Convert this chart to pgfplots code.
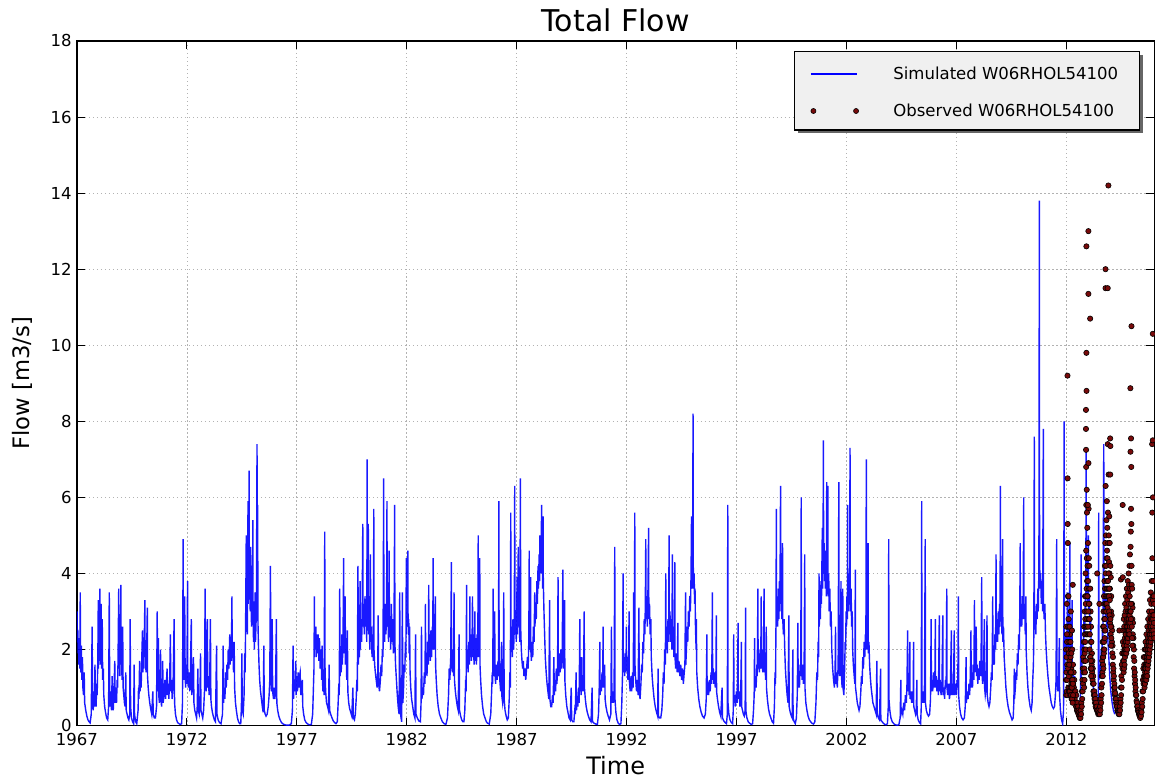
\documentclass[border=0pt]{standalone}
\usepackage{fontspec}
\setmainfont{DejaVu Sans}
\usepackage{pgfplots}
\pgfplotsset{compat=1.18}
\definecolor{simblue}{RGB}{0,0,255}
\definecolor{obsred}{RGB}{120,10,10}
\definecolor{legbg}{RGB}{240,240,240}
\begin{document}
\begin{tikzpicture}
\begin{axis}[
  at={(0,0)}, anchor=south west,
  width=808.5pt, height=513.75pt, scale only axis,
  xmin=1967, xmax=2016, ymin=0, ymax=18,
  xtick={1967,1972,...,2012}, ytick={0,2,...,18},
  /pgf/number format/1000 sep={}, /pgf/number format/assume math mode=true,
  tick label style={font=\fontsize{12.4}{14}\selectfont},
  xticklabel style={yshift=-2.5pt},
  yticklabel style={xshift=-0.5pt},
  grid=major, major grid style={gray!60, dash pattern=on 1pt off 2pt, line width=0.5pt},
  axis line style={line width=1.1pt},
  tick align=inside, major tick length=6pt, tick style={black, line width=0.8pt},
  xtick pos=both, ytick pos=both,
  title={Total Flow}, title style={font=\fontsize{22.5}{26}\selectfont, at={(axis description cs:0.5,1.018)}, anchor=center},
  xlabel={Time}, xlabel style={font=\fontsize{18}{20}\selectfont, at={(axis description cs:0.5,-0.058)}, anchor=center},
  ylabel={Flow [m3/s]}, ylabel style={font=\fontsize{17}{20}\selectfont, at={(axis description cs:-0.051,0.5)}, anchor=center},
  legend style={at={(axis description cs:0.666,0.984)}, anchor=north west, fill=none, draw=none,
    font=\fontsize{12.4}{14}\selectfont, inner xsep=10pt, inner ysep=9pt, row sep=12.75pt},
  legend cell align=left,
]
% legend frame with shadow (drawn before the legend entries)
\fill[black!60] ([xshift=2.5pt,yshift=-2.5pt]axis description cs:0.666,0.870) rectangle ([xshift=2.5pt,yshift=-2.5pt]axis description cs:0.986,0.984);
\draw[fill=legbg, line width=0.8pt] (axis description cs:0.666,0.870) rectangle (axis description cs:0.986,0.984);
\addplot[simblue, draw opacity=0.9, line width=1.05pt,
  legend image code/.code={\draw[simblue, draw opacity=1, line width=1.1pt] (0pt,0pt) -- (35pt,0pt); \path[draw=none, fill=none] (-2pt,-4pt) rectangle (60pt,4pt);}]
coordinates {
(1967.00,2.6)(1967.01,3.0)(1967.02,2.2)(1967.04,2.5)(1967.05,1.9)(1967.07,2.3)(1967.09,1.6)(1967.11,2.2)(1967.13,1.5)(1967.15,3.5)(1967.16,2.0)(1967.18,1.4)(1967.20,2.1)(1967.22,1.2)(1967.25,1.8)(1967.27,1.0)(1967.30,0.8)(1967.33,1.4)(1967.35,0.6)(1967.40,0.4)(1967.45,0.25)(1967.50,0.15)(1967.55,0.1)(1967.60,0.07)(1967.65,0.3)(1967.69,2.6)(1967.71,0.6)(1967.74,0.4)(1967.77,0.9)(1967.79,0.5)(1967.82,1.6)(1967.84,0.7)(1967.87,0.5)(1967.90,1.1)(1967.92,0.8)(1967.95,1.8)(1967.97,3.3)(1967.98,1.5)(1968.00,2.4)(1968.02,1.7)(1968.04,3.6)(1968.05,2.0)(1968.07,2.6)(1968.08,1.6)(1968.10,3.2)(1968.12,1.5)(1968.13,2.2)(1968.15,2.8)(1968.17,1.2)(1968.20,1.5)(1968.22,0.8)(1968.26,0.5)(1968.30,0.35)(1968.35,0.2)(1968.40,0.15)(1968.44,0.5)(1968.47,3.5)(1968.49,0.8)(1968.52,0.5)(1968.55,0.9)(1968.57,0.4)(1968.60,1.3)(1968.62,0.6)(1968.65,0.4)(1968.68,0.8)(1968.72,1.7)(1968.74,0.6)(1968.77,1.0)(1968.80,0.6)(1968.83,1.2)(1968.85,1.0)(1968.87,1.8)(1968.90,3.6)(1968.91,1.5)(1968.93,2.0)(1968.95,1.3)(1968.97,2.2)(1969.00,3.7)(1969.01,1.6)(1969.03,1.9)(1969.05,1.2)(1969.08,2.6)(1969.10,1.0)(1969.13,0.8)(1969.16,0.6)(1969.19,0.5)(1969.22,1.4)(1969.24,0.4)(1969.28,0.3)(1969.32,0.2)(1969.36,0.15)(1969.40,0.3)(1969.42,2.8)(1969.44,0.5)(1969.48,0.2)(1969.53,0.1)(1969.58,0.05)(1969.60,1.6)(1969.62,0.3)(1969.67,0.1)(1969.72,0.05)(1969.78,0.4)(1969.80,1.0)(1969.82,0.7)(1969.85,1.7)(1969.87,0.9)(1969.90,1.4)(1969.92,1.0)(1969.95,1.8)(1969.98,2.5)(1970.00,1.4)(1970.02,2.0)(1970.04,1.5)(1970.06,2.2)(1970.09,3.3)(1970.10,1.8)(1970.12,2.0)(1970.14,1.4)(1970.17,1.9)(1970.20,3.1)(1970.21,1.3)(1970.24,1.0)(1970.27,0.8)(1970.31,0.6)(1970.35,0.45)(1970.40,0.3)(1970.45,0.9)(1970.47,0.3)(1970.52,0.2)(1970.57,0.2)(1970.62,0.5)(1970.65,3.0)(1970.67,0.9)(1970.70,2.3)(1970.72,0.8)(1970.75,0.6)(1970.78,1.0)(1970.80,2.0)(1970.82,0.7)(1970.85,0.5)(1970.88,0.9)(1970.90,1.7)(1970.92,0.6)(1970.96,0.8)(1971.00,1.2)(1971.03,0.7)(1971.06,1.0)(1971.10,1.5)(1971.12,0.8)(1971.15,1.1)(1971.18,0.7)(1971.22,1.3)(1971.25,2.4)(1971.27,0.9)(1971.30,1.2)(1971.33,0.7)(1971.37,1.0)(1971.42,2.8)(1971.44,0.6)(1971.48,0.3)(1971.53,0.15)(1971.58,0.08)(1971.64,0.05)(1971.70,0.03)(1971.76,0.05)(1971.80,0.6)
(1971.83,4.9)(1971.84,1.8)(1971.86,1.2)(1971.88,2.2)(1971.90,3.4)(1971.92,1.4)(1971.94,1.0)(1971.97,1.6)(1972.00,1.1)(1972.03,3.8)(1972.04,1.5)(1972.07,1.0)(1972.10,1.4)(1972.13,0.9)(1972.16,1.3)(1972.20,2.8)(1972.22,0.8)(1972.26,1.0)(1972.30,1.8)(1972.32,0.6)(1972.36,0.4)(1972.40,0.3)(1972.44,0.2)(1972.47,0.5)(1972.50,1.5)(1972.52,0.4)(1972.56,0.3)(1972.59,0.6)(1972.62,1.9)(1972.64,0.4)(1972.68,0.3)(1972.72,0.2)(1972.76,0.4)(1972.80,0.9)(1972.83,3.6)(1972.85,1.2)(1972.88,0.9)(1972.90,1.5)(1972.93,2.8)(1972.95,1.0)(1972.98,1.3)(1973.01,0.8)(1973.04,1.2)(1973.07,2.8)(1973.09,0.7)(1973.12,0.5)(1973.16,0.35)(1973.20,0.25)(1973.25,0.15)(1973.30,0.1)(1973.35,2.1)(1973.37,0.3)(1973.42,0.15)(1973.48,0.08)(1973.55,0.05)(1973.62,0.3)(1973.65,2.1)(1973.67,0.6)(1973.70,1.0)(1973.73,0.7)(1973.76,1.4)(1973.79,1.0)(1973.82,1.6)(1973.85,1.2)(1973.88,2.0)(1973.91,1.5)(1973.95,2.4)(1973.97,1.6)(1974.00,2.2)(1974.02,1.7)(1974.05,3.4)(1974.06,1.8)(1974.09,2.2)(1974.12,1.4)(1974.15,2.2)(1974.17,1.0)(1974.21,0.6)(1974.25,0.4)(1974.30,0.2)(1974.35,0.1)(1974.40,0.05)(1974.45,0.05)(1974.48,0.5)(1974.50,1.9)(1974.52,0.4)(1974.56,0.3)(1974.60,0.8)(1974.63,1.9)(1974.65,1.4)(1974.67,2.6)(1974.70,5.0)(1974.71,2.8)(1974.73,3.6)(1974.75,2.4)(1974.78,5.9)(1974.79,3.2)(1974.81,4.0)(1974.83,6.7)(1974.84,3.5)(1974.86,4.4)(1974.88,3.0)(1974.90,4.7)(1974.92,3.2)(1974.94,2.6)(1974.96,3.8)(1974.98,2.8)(1975.00,5.4)(1975.01,3.0)(1975.03,2.2)(1975.05,3.0)(1975.07,2.0)(1975.10,3.5)(1975.12,2.2)(1975.14,2.6)(1975.16,3.0)(1975.19,7.4)(1975.20,3.6)(1975.22,5.8)(1975.23,2.8)(1975.25,2.2)(1975.28,1.6)(1975.31,1.2)(1975.35,0.9)(1975.39,0.7)(1975.43,0.5)(1975.47,0.35)(1975.50,2.1)(1975.52,0.4)(1975.56,0.3)(1975.60,0.25)(1975.65,0.3)(1975.70,0.5)(1975.74,0.8)(1975.77,1.2)(1975.80,4.2)(1975.82,1.3)(1975.85,0.9)(1975.88,2.8)(1975.90,0.9)(1975.94,0.7)(1975.97,1.0)(1976.00,0.7)(1976.03,0.9)(1976.07,2.8)(1976.09,0.6)(1976.13,0.4)(1976.18,0.25)(1976.24,0.15)(1976.30,0.08)(1976.38,0.04)(1976.46,0.02)(1976.55,0.01)(1976.65,0.01)(1976.75,0.05)(1976.80,0.4)
(1976.83,2.1)(1976.85,0.7)(1976.88,1.2)(1976.91,0.9)(1976.95,1.7)(1976.97,0.8)(1977.00,1.3)(1977.03,0.9)(1977.06,1.4)(1977.09,1.0)(1977.12,1.3)(1977.15,1.4)(1977.18,0.8)(1977.21,1.0)(1977.25,1.2)(1977.27,0.5)(1977.31,0.3)(1977.36,0.15)(1977.42,0.08)(1977.50,0.04)(1977.58,0.02)(1977.66,0.03)(1977.72,0.3)(1977.75,0.9)(1977.78,1.5)(1977.80,3.4)(1977.81,2.0)(1977.84,2.4)(1977.87,2.6)(1977.88,1.8)(1977.91,2.4)(1977.94,1.9)(1977.97,2.4)(1978.00,1.7)(1978.03,2.3)(1978.06,1.5)(1978.10,2.0)(1978.13,1.2)(1978.15,2.1)(1978.18,0.9)(1978.21,1.2)(1978.24,0.8)(1978.27,5.1)(1978.28,1.6)(1978.31,0.9)(1978.35,0.6)(1978.40,0.5)(1978.44,0.4)(1978.47,1.6)(1978.49,0.4)(1978.54,0.3)(1978.60,0.2)(1978.66,0.12)(1978.72,0.08)(1978.78,0.05)(1978.84,0.1)(1978.88,0.6)(1978.91,1.1)(1978.93,0.8)(1978.95,3.6)(1978.97,1.3)(1979.00,2.0)(1979.02,1.4)(1979.05,2.4)(1979.07,1.6)(1979.10,2.2)(1979.13,4.4)(1979.14,1.9)(1979.17,2.6)(1979.20,3.4)(1979.21,1.6)(1979.24,2.3)(1979.27,1.2)(1979.30,2.5)(1979.32,0.9)(1979.36,0.6)(1979.40,0.45)(1979.45,0.35)(1979.50,0.25)(1979.55,1.0)(1979.57,0.2)(1979.62,0.15)(1979.66,0.3)(1979.70,0.7)(1979.73,1.2)(1979.75,0.9)(1979.78,4.2)(1979.80,1.6)(1979.83,2.3)(1979.85,1.8)(1979.88,3.8)(1979.89,2.0)(1979.92,2.8)(1979.95,2.2)(1979.97,3.0)(1980.00,5.3)(1980.01,2.6)(1980.04,3.2)(1980.07,2.4)(1980.10,3.4)(1980.13,2.6)(1980.16,3.0)(1980.18,2.2)(1980.20,7.0)(1980.21,3.0)(1980.23,2.5)(1980.25,5.3)(1980.26,2.4)(1980.29,2.8)(1980.32,2.0)(1980.35,4.5)(1980.36,2.2)(1980.39,2.6)(1980.42,1.8)(1980.45,2.4)(1980.48,1.7)(1980.50,5.7)(1980.51,2.0)(1980.54,1.6)(1980.57,1.4)(1980.61,1.2)(1980.65,1.0)(1980.68,1.4)(1980.70,2.9)(1980.72,1.1)(1980.76,0.9)(1980.80,1.2)(1980.83,1.6)(1980.86,1.3)(1980.89,2.0)(1980.92,1.8)(1980.95,6.5)(1980.96,2.8)(1980.99,2.2)(1981.02,3.2)(1981.05,2.4)(1981.08,2.8)(1981.10,5.9)(1981.11,2.6)(1981.14,3.0)(1981.17,2.2)(1981.20,4.6)(1981.21,2.4)(1981.24,2.8)(1981.27,2.0)(1981.30,3.2)(1981.33,2.2)(1981.36,2.8)(1981.39,1.9)(1981.42,2.6)(1981.45,5.8)(1981.46,2.2)(1981.49,1.6)(1981.53,1.2)(1981.57,0.8)(1981.61,0.5)(1981.65,0.3)(1981.68,3.5)(1981.70,0.4)(1981.74,0.2)(1981.77,0.1)(1981.80,3.5)(1981.82,0.6)(1981.85,0.9)(1981.88,1.6)(1981.91,1.4)(1981.94,2.2)(1981.96,1.8)(1981.98,4.4)(1981.99,2.4)(1982.02,2.9)(1982.05,4.6)(1982.06,2.6)(1982.09,2.8)(1982.11,1.9)(1982.13,2.6)(1982.15,1.4)(1982.18,1.0)(1982.22,0.7)(1982.27,0.5)(1982.32,0.3)(1982.37,0.2)(1982.40,2.4)(1982.42,0.3)(1982.48,0.2)(1982.55,0.12)(1982.62,0.1)(1982.65,0.6)
(1982.67,2.6)(1982.69,0.7)(1982.73,1.0)(1982.76,0.8)(1982.80,1.4)(1982.83,1.1)(1982.85,3.2)(1982.86,1.4)(1982.89,1.8)(1982.92,1.3)(1982.95,2.2)(1982.98,1.6)(1983.00,3.7)(1983.01,1.8)(1983.04,2.4)(1983.07,1.7)(1983.10,2.5)(1983.13,1.8)(1983.16,2.6)(1983.18,2.0)(1983.20,4.4)(1983.21,2.2)(1983.24,2.0)(1983.27,2.5)(1983.30,3.4)(1983.31,1.6)(1983.34,1.2)(1983.38,0.8)(1983.43,0.5)(1983.49,0.3)(1983.55,0.2)(1983.62,0.1)(1983.70,0.05)(1983.78,0.03)(1983.85,0.2)(1983.90,0.8)(1983.93,1.5)(1983.96,1.2)(1984.00,1.8)(1984.03,4.3)(1984.04,1.7)(1984.07,1.4)(1984.10,2.0)(1984.13,1.3)(1984.15,3.5)(1984.17,1.2)(1984.21,0.9)(1984.25,0.7)(1984.30,0.5)(1984.34,0.4)(1984.38,2.4)(1984.40,0.4)(1984.45,0.25)(1984.50,0.15)(1984.55,0.1)(1984.60,0.1)(1984.64,0.4)(1984.68,1.2)(1984.70,0.9)(1984.72,3.7)(1984.73,1.5)(1984.76,2.0)(1984.79,1.4)(1984.82,2.2)(1984.85,1.6)(1984.87,3.4)(1984.88,1.8)(1984.91,2.4)(1984.94,1.7)(1984.97,2.2)(1984.99,3.4)(1985.00,1.8)(1985.03,2.4)(1985.06,1.6)(1985.08,2.2)(1985.10,3.0)(1985.11,1.7)(1985.14,2.3)(1985.17,1.6)(1985.20,2.4)(1985.23,1.8)(1985.25,5.0)(1985.26,2.2)(1985.29,1.8)(1985.32,4.4)(1985.33,1.6)(1985.36,1.2)(1985.40,0.8)(1985.45,0.5)(1985.50,0.3)(1985.56,0.2)(1985.62,0.1)(1985.68,0.06)(1985.75,0.04)(1985.82,0.3)(1985.86,0.9)(1985.89,1.4)(1985.91,1.1)(1985.93,3.6)(1985.94,1.6)(1985.97,1.3)(1986.00,3.0)(1986.01,1.4)(1986.04,1.1)(1986.08,1.6)(1986.11,1.2)(1986.15,1.7)(1986.17,1.3)(1986.19,5.9)(1986.20,1.8)(1986.23,1.2)(1986.27,0.9)(1986.31,2.2)(1986.32,0.8)(1986.36,0.6)(1986.39,0.8)(1986.41,3.5)(1986.43,0.7)(1986.47,0.4)(1986.52,0.25)(1986.57,0.15)(1986.62,0.2)(1986.66,0.7)(1986.69,1.4)(1986.71,1.0)(1986.73,5.6)(1986.74,2.0)(1986.77,2.6)(1986.80,1.8)(1986.83,2.8)(1986.86,2.0)(1986.89,2.6)(1986.91,6.3)(1986.92,2.4)(1986.95,3.0)(1986.98,2.2)(1987.02,3.9)(1987.03,2.4)(1987.05,2.8)(1987.07,4.7)(1987.08,2.6)(1987.11,3.0)(1987.14,2.2)(1987.17,6.5)(1987.18,2.6)(1987.21,2.0)(1987.24,1.7)(1987.27,1.5)(1987.30,1.7)(1987.33,1.3)(1987.37,1.5)(1987.41,1.2)(1987.45,1.5)(1987.49,1.8)(1987.52,1.5)(1987.55,2.2)(1987.57,4.6)(1987.58,2.0)(1987.61,2.5)(1987.63,3.9)(1987.64,2.0)(1987.67,1.7)(1987.70,2.2)(1987.73,1.8)(1987.76,2.6)(1987.79,2.2)(1987.82,3.5)(1987.83,2.6)(1987.86,3.2)(1987.89,2.8)(1987.92,3.8)(1987.94,3.2)(1987.97,4.2)(1987.99,3.6)(1988.02,4.5)(1988.04,3.8)(1988.05,5.0)(1988.07,4.0)(1988.09,4.6)(1988.11,4.0)(1988.13,5.8)(1988.14,4.2)(1988.16,4.6)(1988.18,3.6)(1988.20,5.5)(1988.21,3.8)(1988.24,3.0)(1988.27,2.4)(1988.30,1.8)(1988.34,1.4)(1988.38,1.1)(1988.42,0.9)(1988.46,0.7)(1988.50,3.3)(1988.51,0.7)(1988.55,0.5)(1988.59,0.5)(1988.63,0.8)(1988.66,0.6)
(1988.69,1.8)(1988.71,0.8)(1988.74,1.2)(1988.77,0.9)(1988.80,1.5)(1988.83,1.1)(1988.86,1.6)(1988.88,3.9)(1988.89,1.6)(1988.92,1.3)(1988.95,1.9)(1988.98,1.4)(1989.01,2.0)(1989.04,1.5)(1989.07,2.0)(1989.10,4.1)(1989.11,1.8)(1989.14,1.5)(1989.18,3.3)(1989.19,1.2)(1989.23,0.8)(1989.28,0.5)(1989.33,0.35)(1989.38,0.2)(1989.43,0.15)(1989.48,1.0)(1989.50,0.15)(1989.55,0.1)(1989.60,0.1)(1989.64,0.4)(1989.67,0.3)(1989.70,1.4)(1989.72,0.4)(1989.75,0.7)(1989.78,0.5)(1989.81,1.0)(1989.84,0.6)(1989.87,2.8)(1989.88,0.9)(1989.91,1.2)(1989.93,0.8)(1989.95,1.8)(1989.97,0.9)(1990.00,1.3)(1990.03,0.9)(1990.07,3.0)(1990.08,1.0)(1990.12,0.7)(1990.16,0.5)(1990.21,0.35)(1990.26,0.25)(1990.32,0.15)(1990.38,0.1)(1990.43,1.0)(1990.45,0.1)(1990.52,0.06)(1990.60,0.04)(1990.67,0.03)(1990.72,0.3)(1990.75,0.9)(1990.78,2.2)(1990.79,0.8)(1990.82,1.2)(1990.85,0.9)(1990.88,1.4)(1990.91,1.0)(1990.93,2.6)(1990.94,1.0)(1990.97,1.2)(1991.00,1.6)(1991.02,0.7)(1991.06,0.5)(1991.11,0.35)(1991.16,0.25)(1991.22,0.15)(1991.28,0.3)(1991.31,2.6)(1991.33,0.6)(1991.37,0.9)(1991.40,0.6)(1991.43,1.0)(1991.46,4.7)(1991.47,0.7)(1991.51,0.35)(1991.56,0.15)(1991.62,0.06)(1991.68,0.03)(1991.74,0.05)(1991.78,0.6)(1991.81,1.3)(1991.84,4.0)(1991.85,1.4)(1991.88,1.8)(1991.91,1.3)(1991.94,1.9)(1991.97,1.4)(1991.99,2.6)(1992.00,1.5)(1992.03,1.8)(1992.06,1.2)(1992.09,1.6)(1992.11,3.0)(1992.12,1.2)(1992.16,0.9)(1992.20,1.3)(1992.23,0.9)(1992.27,1.4)(1992.30,1.0)(1992.32,3.5)(1992.33,1.3)(1992.35,1.6)(1992.37,5.6)(1992.38,1.6)(1992.41,1.2)(1992.45,0.9)(1992.49,1.2)(1992.52,0.8)(1992.56,3.1)(1992.57,0.9)(1992.61,0.7)(1992.65,1.1)(1992.68,1.6)(1992.71,1.4)(1992.74,2.2)(1992.77,1.9)(1992.80,2.8)(1992.83,2.4)(1992.85,3.2)(1992.87,4.9)(1992.88,2.8)(1992.91,3.4)(1992.94,2.6)(1992.97,3.6)(1993.00,5.2)(1993.01,2.8)(1993.04,3.2)(1993.07,2.4)(1993.10,2.8)(1993.12,1.8)(1993.16,1.3)(1993.20,1.0)(1993.25,0.7)(1993.30,0.5)(1993.36,0.35)(1993.41,0.25)(1993.43,1.5)(1993.45,0.25)(1993.50,0.2)(1993.55,0.2)(1993.60,0.4)
(1993.64,0.8)(1993.67,1.4)(1993.70,1.1)(1993.73,2.0)(1993.76,1.6)(1993.78,4.0)(1993.79,2.0)(1993.82,2.6)(1993.85,1.9)(1993.88,2.8)(1993.91,2.2)(1993.93,5.0)(1993.94,2.4)(1993.97,3.0)(1994.00,2.2)(1994.03,2.8)(1994.06,2.0)(1994.08,4.5)(1994.09,2.0)(1994.12,2.4)(1994.15,1.8)(1994.19,4.3)(1994.20,1.8)(1994.23,1.5)(1994.27,1.9)(1994.30,1.4)(1994.33,2.7)(1994.34,1.4)(1994.38,1.7)(1994.42,1.3)(1994.46,1.6)(1994.50,1.2)(1994.54,1.5)(1994.58,1.1)(1994.62,1.4)(1994.65,1.6)(1994.68,3.5)(1994.69,1.6)(1994.72,2.0)(1994.75,2.6)(1994.78,2.2)(1994.81,3.0)(1994.84,2.6)(1994.87,3.4)(1994.90,3.0)(1994.93,4.0)(1994.95,5.5)(1994.96,3.6)(1994.98,4.2)(1995.00,3.6)(1995.02,8.2)(1995.03,4.2)(1995.05,3.6)(1995.07,4.0)(1995.09,3.2)(1995.11,3.6)(1995.13,2.6)(1995.16,2.0)(1995.17,2.8)(1995.19,1.4)(1995.23,1.0)(1995.28,0.7)(1995.33,0.5)(1995.39,0.35)(1995.45,0.25)(1995.52,0.2)(1995.58,0.3)(1995.62,0.7)(1995.65,2.4)(1995.66,0.8)(1995.70,1.0)(1995.73,0.8)(1995.77,1.2)(1995.80,0.9)(1995.84,1.4)(1995.87,1.1)(1995.90,3.5)(1995.91,1.2)(1995.94,1.5)(1995.97,1.1)(1996.00,1.4)(1996.03,1.0)(1996.06,1.3)(1996.08,2.9)(1996.09,0.9)(1996.13,0.7)(1996.18,0.5)(1996.23,0.35)(1996.28,0.25)(1996.34,1.0)(1996.36,0.2)(1996.42,0.12)(1996.48,0.08)(1996.54,0.05)(1996.58,0.3)(1996.60,5.8)(1996.61,0.6)(1996.65,0.3)(1996.70,0.15)(1996.76,0.08)(1996.82,0.05)(1996.85,0.4)(1996.87,2.4)(1996.88,0.6)(1996.92,0.8)(1996.95,0.5)(1996.99,0.9)(1997.03,0.6)(1997.07,2.7)(1997.08,0.7)(1997.12,0.9)(1997.15,0.5)(1997.19,0.8)(1997.22,2.2)(1997.23,0.5)(1997.27,0.4)(1997.31,0.3)(1997.35,0.25)(1997.39,0.4)(1997.41,3.1)(1997.42,0.4)(1997.47,0.2)(1997.53,0.1)(1997.60,0.06)(1997.67,0.03)(1997.73,0.05)(1997.77,0.4)(1997.80,0.8)(1997.82,2.3)(1997.83,0.9)(1997.86,1.3)(1997.89,1.0)(1997.92,1.6)(1997.94,1.3)(1997.97,3.6)(1997.98,1.5)(1998.01,1.9)(1998.04,1.4)(1998.07,2.0)(1998.10,1.6)(1998.12,3.4)(1998.13,1.5)(1998.16,2.0)(1998.19,1.4)(1998.22,1.8)(1998.25,3.6)(1998.26,1.4)(1998.29,1.7)(1998.32,1.2)(1998.35,2.6)(1998.36,1.0)(1998.40,0.7)(1998.45,0.45)(1998.50,0.3)(1998.56,0.2)(1998.62,0.1)(1998.68,0.06)(1998.72,0.5)(1998.75,1.4)(1998.77,1.1)(1998.79,2.5)(1998.81,5.7)(1998.82,2.6)(1998.85,3.4)(1998.87,2.6)(1998.90,3.6)(1998.92,2.8)(1998.95,3.8)(1998.97,3.0)(1999.00,6.3)(1999.01,3.2)(1999.04,3.8)(1999.06,2.8)(1999.09,4.8)(1999.10,2.8)(1999.13,2.4)(1999.16,2.8)(1999.19,2.0)(1999.22,1.5)(1999.26,1.1)(1999.30,0.8)(1999.34,0.6)(1999.38,2.9)(1999.39,0.5)(1999.44,0.35)(1999.49,0.25)(1999.53,0.2)(1999.56,2.0)(1999.57,0.2)(1999.62,0.1)(1999.67,0.05)(1999.72,0.2)
(1999.76,0.8)(1999.79,2.7)(1999.80,1.0)(1999.83,1.4)(1999.86,1.0)(1999.89,1.6)(1999.92,1.3)(1999.94,6.0)(1999.95,1.6)(1999.98,1.2)(2000.01,1.6)(2000.04,1.1)(2000.07,1.4)(2000.10,4.5)(2000.11,1.0)(2000.15,0.6)(2000.20,0.4)(2000.25,0.25)(2000.31,0.15)(2000.37,0.1)(2000.43,0.06)(2000.50,0.04)(2000.56,0.1)(2000.61,0.6)(2000.65,1.4)(2000.68,1.2)(2000.71,2.2)(2000.73,1.8)(2000.75,4.0)(2000.76,2.6)(2000.79,3.4)(2000.81,2.8)(2000.84,3.8)(2000.86,3.2)(2000.88,4.2)(2000.90,5.2)(2000.91,3.6)(2000.93,4.4)(2000.95,7.5)(2000.96,4.0)(2000.98,4.8)(2001.00,3.8)(2001.02,4.6)(2001.04,3.6)(2001.06,4.4)(2001.08,3.4)(2001.10,6.4)(2001.11,3.6)(2001.13,4.2)(2001.15,6.3)(2001.16,3.4)(2001.19,4.0)(2001.21,3.0)(2001.24,3.6)(2001.27,2.6)(2001.30,3.0)(2001.33,2.0)(2001.37,1.5)(2001.41,1.2)(2001.45,1.0)(2001.48,1.4)(2001.50,2.6)(2001.51,1.1)(2001.55,1.4)(2001.58,1.0)(2001.62,1.6)(2001.65,6.4)(2001.66,1.8)(2001.69,1.3)(2001.72,2.0)(2001.75,3.8)(2001.76,1.4)(2001.80,1.0)(2001.83,3.6)(2001.84,1.0)(2001.88,0.8)(2001.91,1.4)(2001.94,2.2)(2001.96,2.0)(2001.98,3.0)(2002.00,2.6)(2002.02,3.4)(2002.04,2.8)(2002.05,5.8)(2002.06,3.0)(2002.08,3.8)(2002.10,3.0)(2002.12,4.0)(2002.14,3.2)(2002.16,7.3)(2002.17,3.6)(2002.19,3.0)(2002.21,3.6)(2002.23,2.6)(2002.26,3.0)(2002.28,2.0)(2002.31,1.6)(2002.35,1.3)(2002.38,1.1)(2002.40,4.1)(2002.41,1.0)(2002.45,0.8)(2002.49,0.6)(2002.53,0.5)(2002.57,0.4)(2002.61,0.5)(2002.65,0.9)(2002.68,1.3)(2002.71,1.1)(2002.74,1.8)(2002.77,1.5)(2002.80,2.2)(2002.83,1.8)(2002.86,2.4)(2002.88,2.0)(2002.90,7.0)(2002.91,2.2)(2002.94,2.6)(2002.96,2.0)(2002.98,4.8)(2002.99,1.9)(2003.02,2.2)(2003.05,1.6)(2003.08,1.3)(2003.12,1.0)(2003.16,0.8)(2003.20,0.6)(2003.25,0.5)(2003.30,0.4)(2003.35,0.3)(2003.38,1.7)(2003.40,0.3)(2003.45,0.2)(2003.50,0.15)(2003.55,1.5)(2003.56,0.15)(2003.62,0.1)(2003.68,0.06)(2003.74,0.03)(2003.80,0.02)(2003.86,0.05)(2003.90,0.5)(2003.92,4.9)(2003.93,0.7)(2003.97,0.4)(2004.02,0.2)(2004.08,0.1)(2004.15,0.05)(2004.22,0.02)(2004.30,0.01)(2004.38,0.02)(2004.44,0.2)(2004.47,1.2)(2004.48,0.3)(2004.52,0.4)(2004.56,0.3)(2004.60,0.6)(2004.64,0.4)(2004.68,0.8)(2004.72,0.6)(2004.75,1.1)(2004.78,2.5)(2004.79,0.9)(2004.82,1.2)(2004.85,0.8)(2004.88,2.2)(2004.89,0.7)(2004.93,0.9)(2004.96,0.6)(2005.00,0.9)(2005.03,0.6)(2005.05,2.2)(2005.06,0.5)(2005.10,0.4)(2005.14,0.3)(2005.17,0.4)(2005.20,1.2)(2005.21,0.3)(2005.26,0.15)(2005.32,0.08)(2005.37,0.05)(2005.40,0.5)
(2005.42,5.9)(2005.43,0.8)(2005.47,0.6)(2005.51,0.9)(2005.54,0.6)(2005.58,4.9)(2005.59,0.6)(2005.63,0.4)(2005.68,0.3)(2005.73,0.25)(2005.78,0.3)(2005.82,0.7)(2005.85,2.8)(2005.86,0.9)(2005.89,1.2)(2005.92,0.9)(2005.96,1.4)(2005.99,1.0)(2006.02,1.3)(2006.04,2.8)(2006.05,1.0)(2006.08,1.3)(2006.11,0.9)(2006.15,1.2)(2006.18,0.8)(2006.22,2.9)(2006.23,0.9)(2006.26,1.2)(2006.30,0.8)(2006.34,1.1)(2006.38,2.9)(2006.39,0.8)(2006.43,1.0)(2006.46,0.7)(2006.50,1.2)(2006.53,1.0)(2006.56,3.6)(2006.57,1.0)(2006.60,0.8)(2006.64,1.1)(2006.68,0.7)(2006.72,0.9)(2006.77,2.5)(2006.78,0.8)(2006.82,1.1)(2006.86,0.8)(2006.90,2.5)(2006.91,0.8)(2006.95,1.1)(2006.99,0.8)(2007.03,1.2)(2007.06,1.0)(2007.09,3.4)(2007.10,0.8)(2007.14,0.5)(2007.19,0.3)(2007.24,0.2)(2007.30,0.15)(2007.36,0.2)(2007.40,0.5)(2007.44,1.8)(2007.45,0.6)(2007.49,0.9)(2007.53,0.7)(2007.57,1.1)(2007.60,0.8)(2007.63,1.3)(2007.66,2.5)(2007.67,1.0)(2007.70,1.4)(2007.73,1.0)(2007.76,1.6)(2007.79,1.2)(2007.82,3.3)(2007.83,1.4)(2007.86,1.8)(2007.90,2.6)(2007.91,1.3)(2007.94,1.6)(2007.97,1.1)(2008.00,1.5)(2008.03,1.2)(2008.06,1.7)(2008.09,1.3)(2008.12,1.8)(2008.15,3.9)(2008.16,1.4)(2008.19,1.1)(2008.23,1.4)(2008.27,2.8)(2008.28,1.0)(2008.31,0.8)(2008.35,1.0)(2008.39,2.9)(2008.40,0.8)(2008.44,0.6)(2008.48,0.5)(2008.52,0.6)(2008.56,1.0)(2008.59,1.4)(2008.62,1.2)(2008.65,3.4)(2008.66,1.6)(2008.69,2.0)(2008.72,1.6)(2008.75,2.4)(2008.78,2.0)(2008.80,4.5)(2008.81,2.2)(2008.84,2.8)(2008.87,2.2)(2008.90,3.0)(2008.93,2.4)(2008.96,3.2)(2008.98,2.6)(2009.00,6.3)(2009.01,2.8)(2009.04,3.2)(2009.07,2.4)(2009.10,4.9)(2009.11,2.2)(2009.14,2.6)(2009.17,1.8)(2009.21,1.4)(2009.25,1.0)(2009.30,0.7)(2009.35,0.5)(2009.41,0.35)(2009.47,0.25)(2009.53,0.15)(2009.58,0.2)(2009.61,0.6)(2009.63,1.5)(2009.64,0.7)(2009.68,1.0)(2009.71,1.4)(2009.74,1.2)(2009.77,1.9)(2009.80,1.6)(2009.83,2.4)(2009.86,2.0)(2009.88,3.0)(2009.90,4.8)(2009.91,2.6)(2009.94,3.2)(2009.97,2.6)(2010.00,3.4)(2010.03,2.8)(2010.06,6.0)(2010.07,2.8)(2010.10,3.2)(2010.13,2.4)(2010.16,3.4)(2010.17,2.0)(2010.21,1.4)(2010.25,1.0)(2010.30,0.7)(2010.35,0.5)(2010.40,0.4)(2010.44,0.6)(2010.47,1.2)(2010.50,1.6)(2010.52,2.4)(2010.54,7.6)(2010.55,2.6)(2010.58,3.0)(2010.61,2.4)(2010.64,3.2)(2010.67,2.8)(2010.70,3.6)(2010.72,3.0)(2010.75,4.2)(2010.77,13.8)(2010.78,4.6)(2010.80,3.6)(2010.83,4.0)(2010.86,3.2)(2010.89,3.8)(2010.92,3.0)(2010.95,7.8)(2010.96,3.2)(2010.99,2.8)(2011.02,3.2)(2011.05,2.4)(2011.08,2.0)(2011.12,1.6)(2011.16,1.3)(2011.21,1.0)(2011.26,0.8)(2011.31,0.6)(2011.36,0.5)(2011.41,0.45)(2011.46,0.5)(2011.50,0.8)(2011.53,1.2)(2011.56,4.9)(2011.57,1.2)(2011.61,0.9)(2011.65,1.3)(2011.68,2.3)(2011.69,0.8)(2011.73,0.4)(2011.78,0.15)(2011.83,0.05)(2011.87,0.4)
(2011.90,8.0)(2011.91,1.4)(2011.94,1.8)(2011.97,2.4)(2012.00,1.8)(2012.03,2.6)(2012.06,3.5)(2012.07,2.0)(2012.10,2.4)(2012.13,1.6)(2012.16,4.8)(2012.17,1.6)(2012.20,2.0)(2012.23,1.4)(2012.26,3.3)(2012.27,1.3)(2012.30,1.6)(2012.34,1.1)(2012.38,1.3)(2012.42,0.9)(2012.46,0.6)(2012.51,0.45)(2012.56,0.35)(2012.60,0.4)(2012.64,0.8)(2012.67,4.5)(2012.68,1.2)(2012.71,1.6)(2012.74,2.2)(2012.77,1.9)(2012.80,2.8)(2012.83,2.4)(2012.86,3.4)(2012.88,3.0)(2012.90,7.2)(2012.91,3.4)(2012.94,4.0)(2012.97,3.2)(2013.00,5.0)(2013.01,3.0)(2013.04,3.4)(2013.07,2.6)(2013.10,2.8)(2013.13,2.0)(2013.17,1.5)(2013.21,1.1)(2013.26,0.8)(2013.31,0.6)(2013.36,0.45)(2013.41,0.4)(2013.45,0.8)(2013.47,5.6)(2013.48,1.2)(2013.52,1.6)(2013.55,1.3)(2013.58,2.0)(2013.61,1.7)(2013.64,2.6)(2013.66,2.2)(2013.70,7.4)(2013.71,3.0)(2013.74,3.6)(2013.77,2.8)(2013.80,3.4)(2013.83,2.6)(2013.86,3.0)(2013.89,2.2)(2013.93,1.8)(2013.97,1.3)(2014.02,0.9)(2014.08,0.6)(2014.14,0.4)(2014.20,0.3)
};
\addlegendentry{Simulated W06RHOL54100}
\addplot[only marks, mark=*, mark size=2pt, mark options={fill=obsred, draw=black, line width=0.45pt},
  legend image code/.code={\fill[obsred, draw=black, line width=0.45pt] (2pt,0pt) circle (1.9pt) (34pt,0pt) circle (1.9pt); \path[draw=none, fill=none] (-2pt,-4pt) rectangle (60pt,4pt);}]
coordinates {
(2011.98,1.2)(2011.99,2.0)(2012.00,2.6)(2012.01,1.8)(2012.02,3.2)(2012.03,2.2)(2012.04,1.6)(2012.05,9.2)(2012.055,6.5)(2012.06,5.3)(2012.065,4.8)(2012.07,3.4)(2012.08,2.6)(2012.09,2.0)(2012.10,2.8)(2012.11,1.9)(2012.12,1.5)(2012.13,2.2)(2012.14,1.7)(2012.15,1.3)(2012.16,2.4)(2012.17,1.6)(2012.18,1.2)(2012.19,1.8)(2012.20,3.0)(2012.21,2.0)(2012.22,1.5)(2012.23,1.1)(2012.24,1.6)(2012.25,1.2)(2012.26,0.9)(2012.27,2.0)(2012.28,1.4)(2012.29,3.7)(2012.30,1.6)(2012.31,1.1)(2012.32,0.9)(2012.33,1.4)(2012.34,1.0)(2012.35,0.8)(2012.36,1.2)(2012.37,0.9)(2012.38,0.7)(2012.40,0.6)(2012.41,0.9)(2012.42,0.6)(2012.44,0.5)(2012.45,0.8)(2012.46,0.5)(2012.48,0.4)(2012.49,0.6)(2012.50,0.4)(2012.52,0.35)(2012.53,0.5)(2012.55,0.3)(2012.56,0.4)(2012.58,0.25)(2012.59,0.35)(2012.61,0.2)(2012.62,0.3)(2012.64,0.2)(2012.65,0.4)(2012.67,0.3)(2012.68,0.6)(2012.70,0.5)(2012.71,0.9)
(2011.995,0.8)(2012.005,1.4)(2012.015,0.9)(2012.025,2.4)(2012.035,1.2)(2012.045,0.8)(2012.075,1.5)(2012.085,1.0)(2012.095,3.4)(2012.105,1.3)(2012.115,0.9)(2012.125,1.6)(2012.135,1.0)(2012.145,2.6)(2012.155,0.9)(2012.165,1.4)(2012.175,0.8)(2012.185,2.2)(2012.195,1.0)(2012.205,1.4)(2012.215,0.8)(2012.225,1.9)(2012.235,0.7)(2012.245,1.0)(2012.255,2.5)(2012.265,0.7)(2012.275,1.2)(2012.285,0.6)(2012.295,1.1)(2012.305,0.8)
(2012.72,0.7)(2012.73,1.2)(2012.74,0.9)(2012.75,1.5)(2012.76,1.1)(2012.77,1.8)(2012.78,1.4)(2012.79,2.2)(2012.80,1.7)(2012.81,2.6)(2012.82,2.0)(2012.83,3.0)(2012.84,2.4)(2012.85,3.4)(2012.86,2.8)(2012.87,4.0)(2012.88,3.2)(2012.89,8.3)(2012.89,7.8)(2012.895,7.25)(2012.90,6.8)(2012.90,4.6)(2012.905,5.8)(2012.91,12.6)(2012.91,9.8)(2012.915,8.8)(2012.92,3.6)(2012.925,6.2)(2012.93,4.4)(2012.94,3.8)(2012.95,5.2)(2012.96,4.2)(2012.97,3.4)(2012.98,4.8)(2012.99,3.8)(2013.00,13.0)(2013.00,11.35)(2013.005,6.9)(2013.01,5.7)(2013.02,4.4)(2013.03,3.6)(2013.04,4.2)(2013.05,3.2)(2013.06,2.8)(2013.08,10.7)(2013.085,3.6)(2013.09,2.6)(2013.10,3.0)(2013.11,2.2)(2013.12,2.6)(2013.13,1.9)(2013.14,2.2)(2013.15,1.6)(2013.16,1.9)(2013.17,1.4)(2013.18,1.7)(2013.19,1.2)(2013.20,1.5)(2013.21,1.1)(2013.22,1.3)(2013.23,0.9)(2013.24,1.1)(2013.25,0.8)(2013.27,0.9)(2013.28,0.7)(2013.29,0.8)(2013.30,0.6)(2013.32,0.7)(2013.33,0.5)(2013.35,0.6)(2013.36,0.45)(2013.38,0.5)(2013.39,0.4)(2013.40,4.0)(2013.41,0.4)(2013.43,0.35)(2013.45,0.3)(2013.46,0.4)(2013.48,0.3)(2013.50,3.2)(2013.50,0.35)(2013.52,0.3)(2013.53,0.5)(2013.55,0.4)(2013.56,0.7)(2013.58,0.6)
(2012.805,1.0)(2012.815,1.5)(2012.825,1.2)(2012.835,1.9)(2012.845,1.4)(2012.855,2.2)(2012.865,1.7)(2012.875,2.6)(2012.885,2.0)(2012.895,3.4)(2012.905,2.4)(2012.915,3.0)(2012.925,2.6)(2012.935,5.6)(2012.945,2.8)(2012.955,3.4)(2012.965,2.4)(2012.975,5.8)(2012.985,2.6)(2012.995,3.0)(2013.015,2.8)(2013.025,3.2)(2013.035,2.4)(2013.045,2.8)(2013.055,2.0)(2013.065,2.4)(2013.075,1.8)(2013.095,1.8)(2013.105,1.5)(2013.115,1.7)(2013.125,1.3)(2013.135,1.5)
(2013.59,1.0)(2013.60,0.8)(2013.61,1.3)(2013.62,1.1)(2013.63,1.7)(2013.64,1.4)(2013.65,2.2)(2013.66,1.8)(2013.67,2.6)(2013.68,2.2)(2013.69,3.0)(2013.70,2.6)(2013.71,3.4)(2013.72,2.8)(2013.73,3.8)(2013.74,3.2)(2013.75,4.2)(2013.76,3.6)(2013.77,4.8)(2013.78,12.0)(2013.78,11.5)(2013.785,6.3)(2013.79,4.0)(2013.80,5.0)(2013.81,4.2)(2013.82,5.4)(2013.83,4.4)(2013.84,5.9)(2013.85,4.6)(2013.86,5.2)(2013.87,4.4)(2013.88,11.5)(2013.88,7.4)(2013.89,5.6)(2013.90,4.8)(2013.91,14.2)(2013.92,6.6)(2013.93,5.0)(2013.94,4.3)(2013.95,5.5)(2013.96,4.0)(2013.97,4.8)(2013.98,3.6)(2013.99,7.55)(2013.995,6.6)(2014.00,7.35)(2014.00,4.2)(2014.01,3.4)(2014.02,3.9)(2014.03,3.0)(2014.04,3.4)(2014.05,2.6)(2014.06,2.9)(2014.07,2.2)(2014.08,2.5)(2014.09,1.9)(2014.10,2.1)(2014.11,1.6)(2014.12,1.8)(2014.13,1.4)(2014.14,1.5)(2014.15,1.2)(2014.16,1.3)(2014.17,1.0)(2014.18,1.1)(2014.19,0.9)(2014.20,1.0)(2014.21,0.8)(2014.22,0.85)(2014.23,0.7)(2014.25,0.7)(2014.26,0.6)(2014.28,0.55)(2014.29,0.5)(2014.31,0.5)(2014.32,0.4)(2014.34,0.4)(2014.35,0.35)(2014.37,0.35)(2014.38,0.3)(2014.40,0.4)(2014.41,2.5)(2014.41,0.3)(2014.43,0.5)(2014.44,0.4)(2014.46,0.7)(2014.47,0.6)
(2013.655,1.3)(2013.665,1.6)(2013.675,1.8)(2013.685,1.5)(2013.695,2.0)(2013.705,1.9)(2013.715,2.2)(2013.725,2.0)(2013.735,2.5)(2013.745,2.3)(2013.755,2.8)(2013.765,2.5)(2013.775,3.0)(2013.795,3.2)(2013.805,3.4)(2013.815,3.0)(2013.825,3.6)(2013.835,3.2)(2013.845,3.8)(2013.855,3.4)(2013.865,3.6)(2013.875,3.1)(2013.895,3.8)(2013.905,3.4)(2013.915,4.0)(2013.925,3.6)(2013.935,3.4)(2013.945,3.0)(2013.955,3.6)(2013.965,2.9)(2013.975,3.3)(2013.985,2.7)(2014.005,2.8)(2014.015,2.4)(2014.025,2.6)(2014.035,2.1)(2014.045,2.3)
(2014.48,3.84)(2014.48,1.0)(2014.49,0.8)(2014.50,1.3)(2014.51,1.0)(2014.52,1.6)(2014.53,1.2)(2014.54,1.9)(2014.55,1.5)(2014.56,5.8)(2014.565,3.9)(2014.57,2.2)(2014.58,1.7)(2014.59,2.5)(2014.60,1.9)(2014.61,2.8)(2014.62,2.1)(2014.63,2.6)(2014.64,2.0)(2014.65,2.9)(2014.66,2.3)(2014.67,3.2)(2014.68,2.5)(2014.69,3.0)(2014.70,2.4)(2014.71,3.4)(2014.72,2.7)(2014.73,3.1)(2014.74,2.6)(2014.75,3.6)(2014.76,2.8)(2014.77,3.3)(2014.78,2.6)(2014.79,3.8)(2014.80,3.0)(2014.81,3.5)(2014.82,2.8)(2014.83,4.0)(2014.84,3.2)(2014.85,3.7)(2014.86,3.0)(2014.87,4.2)(2014.88,3.4)(2014.89,4.5)(2014.90,3.6)(2014.91,8.87)(2014.915,7.2)(2014.92,4.7)(2014.93,5.1)(2014.94,7.55)(2014.94,5.7)(2014.95,6.8)(2014.955,5.3)(2014.96,10.5)(2014.965,4.2)(2014.97,3.7)(2014.98,3.2)(2014.99,3.6)(2015.00,2.8)(2015.01,3.1)(2015.02,2.4)(2015.03,2.7)(2015.04,2.1)(2015.05,2.3)(2015.06,1.8)(2015.07,2.0)(2015.08,1.5)(2015.09,1.7)(2015.10,1.3)(2015.11,1.4)(2015.12,1.1)(2015.13,1.2)(2015.14,0.9)(2015.15,1.0)(2015.16,0.8)(2015.18,0.8)(2015.19,0.65)(2015.21,0.6)(2015.22,0.5)(2015.24,0.5)(2015.25,0.4)(2015.27,0.4)(2015.28,0.35)(2015.30,0.3)(2015.31,0.35)(2015.33,0.25)(2015.34,0.3)(2015.36,0.2)(2015.37,0.3)(2015.39,0.25)(2015.40,0.4)(2015.42,0.35)(2015.43,0.6)(2015.45,0.5)
(2014.605,1.4)(2014.615,1.7)(2014.625,1.5)(2014.635,1.9)(2014.645,1.6)(2014.655,2.0)(2014.665,1.8)(2014.675,2.2)(2014.685,1.9)(2014.695,2.4)(2014.705,2.0)(2014.715,2.2)(2014.725,1.9)(2014.735,2.5)(2014.745,2.1)(2014.755,2.3)(2014.765,2.0)(2014.775,2.6)(2014.785,2.2)(2014.795,2.5)(2014.805,2.3)(2014.815,2.7)(2014.825,2.4)(2014.835,2.8)(2014.845,2.5)(2014.855,2.7)(2014.865,2.4)(2014.875,2.9)(2014.885,2.6)(2014.895,3.0)(2014.905,2.7)(2014.925,3.0)(2014.935,2.8)(2014.945,3.2)(2014.975,2.6)(2014.985,2.3)(2014.995,2.1)
(2015.46,0.9)(2015.47,0.7)(2015.48,1.2)(2015.49,0.9)(2015.50,1.5)(2015.51,1.1)(2015.52,1.8)(2015.53,1.3)(2015.54,1.6)(2015.55,1.2)(2015.56,2.0)(2015.57,1.5)(2015.58,1.8)(2015.59,1.4)(2015.60,2.2)(2015.61,1.6)(2015.62,2.0)(2015.63,1.5)(2015.64,2.4)(2015.65,1.8)(2015.66,2.1)(2015.67,1.7)(2015.68,2.6)(2015.69,2.0)(2015.70,2.3)(2015.71,1.8)(2015.72,2.8)(2015.73,2.2)(2015.74,2.5)(2015.75,2.0)(2015.76,3.0)(2015.77,2.4)(2015.78,2.7)(2015.79,2.2)(2015.80,3.3)(2015.81,2.6)(2015.82,2.9)(2015.83,2.4)(2015.84,3.5)(2015.85,2.8)(2015.86,3.2)(2015.87,2.6)(2015.88,3.8)(2015.89,3.0)(2015.90,7.4)(2015.905,5.6)(2015.91,4.4)(2015.92,3.4)(2015.93,10.3)(2015.93,7.5)(2015.935,6.0)(2015.94,3.3)(2015.95,3.8)(2015.96,2.9)(2015.97,3.4)(2015.98,2.7)(2015.99,3.2)(2016.00,2.6)
(2015.555,1.0)(2015.565,1.3)(2015.575,1.1)(2015.585,1.4)(2015.595,1.2)(2015.605,1.5)(2015.615,1.3)(2015.625,1.6)(2015.635,1.2)(2015.645,1.7)(2015.655,1.4)(2015.665,1.6)(2015.675,1.3)(2015.685,1.8)(2015.695,1.5)(2015.705,1.9)(2015.715,1.6)(2015.725,2.0)(2015.735,1.7)(2015.745,2.1)(2015.755,1.8)(2015.765,2.2)(2015.775,1.9)(2015.785,2.3)(2015.795,2.0)(2015.805,2.4)(2015.815,2.1)(2015.825,2.5)(2015.835,2.2)(2015.845,2.6)(2015.855,2.3)(2015.865,2.7)(2015.875,2.4)(2015.885,2.8)(2015.895,2.5)(2015.915,2.9)(2015.925,2.6)(2015.945,2.8)(2015.955,2.5)(2015.965,2.9)(2015.975,2.4)(2015.985,2.7)(2015.995,2.3)
};
\addlegendentry{Observed W06RHOL54100}
\end{axis}
\pgfresetboundingbox
\path (-57.75pt,-40.5pt) rectangle (809pt,544.5pt);
\end{tikzpicture}
\end{document}
